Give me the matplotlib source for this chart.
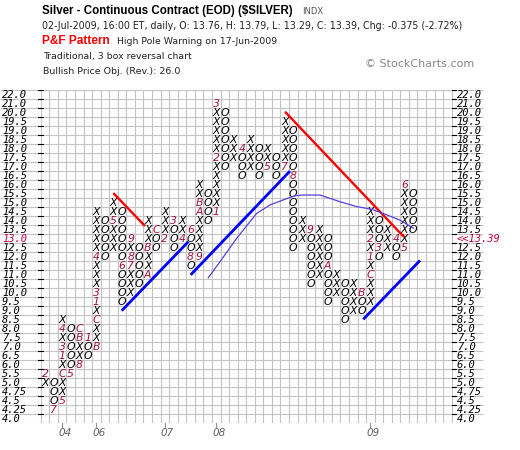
import matplotlib
matplotlib.use('Agg')
import matplotlib.pyplot as plt
import matplotlib.transforms as mtransforms
import numpy as np

# price of each box row (0.25 below 5, 0.5 up to 20, 1.0 above)
box_prices = [4.0, 4.25, 4.5, 4.75, 5.0, 5.5, 6.0, 6.5, 7.0, 7.5, 8.0, 8.5, 9.0, 9.5,
              10.0, 10.5, 11.0, 11.5, 12.0, 12.5, 13.0, 13.5, 14.0, 14.5, 15.0, 15.5,
              16.0, 16.5, 17.0, 17.5, 18.0, 18.5, 19.0, 19.5, 20.0, 21.0, 22.0]

# P&F columns (alternating X / O), low and high box of each
col_low = [5.0, 4.25, 4.5, 5.5, 6.0, 6.5, 7.0, 12.0, 12.5, 9.5, 10.0, 10.5, 11.0, 12.5,
           13.0, 12.5, 13.0, 11.5, 12.0, 14.0, 14.5, 17.0, 17.5, 16.5, 17.0, 16.5,
           17.0, 16.5, 17.0, 12.5, 13.0, 10.5, 11.0, 9.5, 10.0, 8.5, 9.0, 9.0, 9.5,
           12.0, 12.5, 12.0, 12.5, 13.5]
col_high = [5.5, 5.0, 8.5, 8.0, 8.0, 7.5, 14.5, 14.0, 15.0, 14.5, 13.0, 12.5, 14.0, 13.5,
            14.5, 14.0, 14.0, 13.5, 16.0, 15.5, 21.0, 20.0, 18.5, 18.0, 18.5, 18.0,
            18.0, 17.5, 19.5, 19.0, 14.0, 13.5, 13.5, 13.0, 11.0, 10.5, 10.5, 10.0, 14.5,
            14.0, 13.5, 13.0, 16.0, 15.5]

# month markers (1-9, A=Oct, B=Nov, C=Dec)
mark_col = [0, 1, 2, 2, 2, 2, 2, 3, 4, 4, 4, 5, 6, 6, 6, 6, 6, 8, 9, 10, 10, 10, 12, 12,
            13, 14, 15, 16, 17, 17, 18, 18, 18, 20, 20, 20, 23, 26, 28, 29, 31, 33, 37,
            38, 38, 38, 39, 41, 42, 42]
mark_price = [5.5, 4.25, 4.5, 5.5, 6.5, 7.0, 8.0, 5.5, 6.0, 7.5, 8.0, 7.5, 7.0, 8.5, 9.5,
              10.0, 12.0, 14.0, 11.5, 11.5, 12.0, 13.0, 11.0, 12.5, 13.5, 13.0, 14.0, 13.0,
              13.5, 12.0, 12.0, 14.5, 15.0, 14.5, 17.5, 21.0, 18.0, 17.0, 17.0, 16.5, 13.5,
              11.5, 10.0, 11.0, 12.0, 13.0, 12.5, 13.0, 12.5, 16.0]
mark_text = ['2', '7', '5', 'C', '1', '3', '4', '5', '8', 'B', 'C', '1', 'B', 'C', '1',
             '3', '4', '5', '6', '7', '8', '9', 'A', 'B', 'C', '2', '3', '4', '6', '8',
             '9', 'A', 'B', '1', '2', '3', '4', '5', '7', '8', '9', 'A', 'B', 'C', '1',
             '2', '3', '4', '5', '6']

year_col = [2, 6, 14, 20, 38]
year_text = ['04', '06', '07', '08', '09']

# trend lines: (columns, prices) of the two ends
red_lines = [([7.98, 11.68], [15.53, 13.7]), ([28.03, 41.93], [20.09, 13.09])]
blue_lines = [([8.96, 16.74], [9.0, 12.83]), ([17.02, 28.61], [10.99, 16.75]),
              ([37.17, 43.8], [8.52, 11.79])]

# moving average of the columns
ma_col = [19.07, 20.44, 22.39, 23.94, 24.72, 26.28, 27.83, 29.2, 30.17, 32.12, 34.45,
          36.4, 38.15, 39.91, 41.46, 43.01]
ma_price = [10.83, 11.72, 13.02, 13.94, 14.4, 14.87, 15.15, 15.38, 15.42, 15.42, 15.05,
            14.78, 14.63, 14.32, 14.03, 13.58]

last_price = 13.0
last_label = '<<13.39'

n_cols = 48
W, H = 520, 450
left_px, top_px, bot_px = 40.7, 90.0, 423.3
cell_w = 8.5625

def label_of(p):
    s = '%.2f' % p
    return s[:-1] if s.endswith('0') else s

def row_of(p):
    return np.interp(p, box_prices, np.arange(len(box_prices)))

def col_at(px):
    return -0.5 + (px - left_px) / cell_w

fig = plt.figure(figsize=(W / 100, H / 100), dpi=100)
ax = fig.add_axes([0, 1 - bot_px / H, 1, (bot_px - top_px) / H])
ax.set_xlim(col_at(0), col_at(W))
ax.set_ylim(-0.5, len(box_prices) - 0.5)
ax.axis('off')

grid_c = '#c4c4c4'
nr = len(box_prices)
ax.hlines(np.arange(nr + 1) - 0.5, col_at(0), col_at(483), color=grid_c, lw=0.8, zorder=1)
ax.vlines(np.arange(n_cols + 1) - 0.5, -0.5, nr - 0.5, color=grid_c, lw=0.8, zorder=1)

# axis labels and ticks on both sides
blend = mtransforms.blended_transform_factory(fig.transFigure, ax.transData)
right_px = left_px + n_cols * cell_w
mono = ['DejaVu Sans Mono']
for i, p in enumerate(box_prices):
    ax.plot([(left_px - 2.5) / W, (left_px + 2) / W], [i + 0.5, i + 0.5], color='black',
            lw=0.8, transform=blend, zorder=3)
    ax.plot([right_px / W, (right_px + 4) / W], [i + 0.5, i + 0.5], color='black',
            lw=0.8, transform=blend, zorder=3)
    c = '#c8003c' if p == last_price else 'black'
    ax.text(2 / W, i - 0.05, label_of(p), transform=blend, ha='left', va='center',
            fontsize=7.5, style='italic', family=mono, color=c)
    rtxt = last_label if p == last_price else label_of(p)
    ax.text((right_px + 5) / W, i - 0.05, rtxt, transform=blend, ha='left', va='center',
            fontsize=7.5, style='italic', family=mono, color=c)

# X / O boxes
marks = {(c, p): t for c, p, t in zip(mark_col, mark_price, mark_text)}
for c, (lo, hi) in enumerate(zip(col_low, col_high)):
    kind = 'X' if c % 2 == 0 else 'O'
    for p in box_prices:
        if lo <= p <= hi:
            t = marks.get((c, p), kind)
            colr = '#a8103c' if t != kind else 'black'
            ax.text(c, row_of(p), t, ha='center', va='center', fontsize=7.8,
                    style='italic', family=['DejaVu Sans'], color=colr, zorder=4)

for xs, ps in red_lines:
    ax.plot(xs, row_of(ps), color='#ff0000', lw=1.7, zorder=5, solid_capstyle='butt')
for xs, ps in blue_lines:
    ax.plot(xs, row_of(ps), color='#0000ff', lw=2.0, zorder=5, solid_capstyle='butt')
ax.plot(ma_col, row_of(ma_price), color='#5a3ee0', lw=0.9, zorder=5)

# year labels under the grid
for c, t in zip(year_col, year_text):
    ax.plot([c, c], [-0.5, -0.9], color='#909090', lw=0.8, clip_on=False)
    ax.text(c + 0.3, -1.55, t, ha='center', va='center', fontsize=7.5, style='italic',
            color='#606060', clip_on=False)

# header
def ftext(x, y, s, **kw):
    fig.text(x / W, 1 - y / H, s, va='center', ha='left', **kw)

ftext(42, 11, 'Silver - Continuous Contract (EOD) ($SILVER)', fontsize=8.3,
      fontweight='bold', family=['Liberation Sans'])
ftext(302, 12, 'INDX', fontsize=6, color='#555555', family=['DejaVu Sans'])
ftext(42, 26, '02-Jul-2009, 16:00 ET, daily, O: 13.76, H: 13.79, L: 13.29, C: 13.39, '
      'Chg: -0.375 (-2.72%)', fontsize=6.85, family=['DejaVu Sans'], color='#222222')
ftext(42, 41, 'P&F Pattern', fontsize=8.6, fontweight='bold', color='#ff0000',
      family=['Liberation Sans'])
ftext(117, 42, 'High Pole Warning on 17-Jun-2009', fontsize=6.75,
      family=['DejaVu Sans'], color='#222222')
ftext(43, 57, 'Traditional, 3 box reversal chart', fontsize=6.75,
      family=['DejaVu Sans'], color='#222222')
ftext(43, 71, 'Bullish Price Obj. (Rev.): 26.0', fontsize=6.8,
      family=['DejaVu Sans'], color='#222222')
ftext(365, 64, '\u00a9 StockCharts.com', fontsize=8, color='#888888',
      family=['DejaVu Sans'])

fig.savefig('out.png', dpi=100)
